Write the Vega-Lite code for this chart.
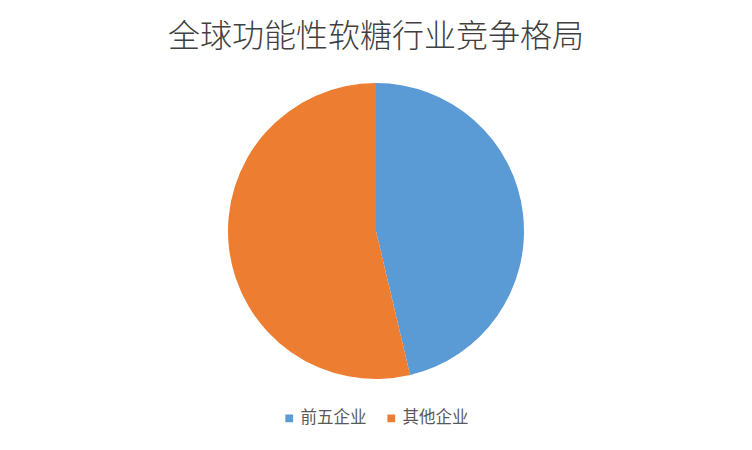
{
  "$schema": "https://vega.github.io/schema/vega-lite/v6.json",
  "width": 752,
  "height": 438,
  "autosize": {"type": "none"},
  "padding": {"top": 12, "left": 0, "right": 0, "bottom": 0},
  "background": "white",
  "title": {
    "text": "全球功能性软糖行业竞争格局",
    "font": "Noto Sans CJK SC",
    "fontWeight": 300,
    "fontSize": 32,
    "color": "#404040",
    "anchor": "middle",
    "baseline": "top",
    "offset": -16,
    "dy": 26
  },
  "data": {
    "values": [
      {"group": "前五企业", "share": 46.3, "rank": 1},
      {"group": "其他企业", "share": 53.7, "rank": 2}
    ]
  },
  "mark": {"type": "arc", "outerRadius": 148},
  "encoding": {
    "theta": {"field": "share", "type": "quantitative", "stack": true},
    "order": {"field": "rank", "type": "quantitative"},
    "color": {
      "field": "group",
      "type": "nominal",
      "scale": {"domain": ["前五企业", "其他企业"], "range": ["#5B9BD5", "#ED7D31"]},
      "legend": {
        "title": null,
        "orient": "none",
        "direction": "horizontal",
        "legendX": 281,
        "legendY": 398,
        "symbolType": "square",
        "symbolSize": 60,
        "symbolStrokeWidth": 0,
        "labelFont": "Noto Sans CJK SC",
        "labelFontSize": 16.5,
        "labelColor": "#595959",
        "columnPadding": 16,
        "labelOffset": 3
      }
    }
  },
  "config": {"view": {"stroke": null}}
}
